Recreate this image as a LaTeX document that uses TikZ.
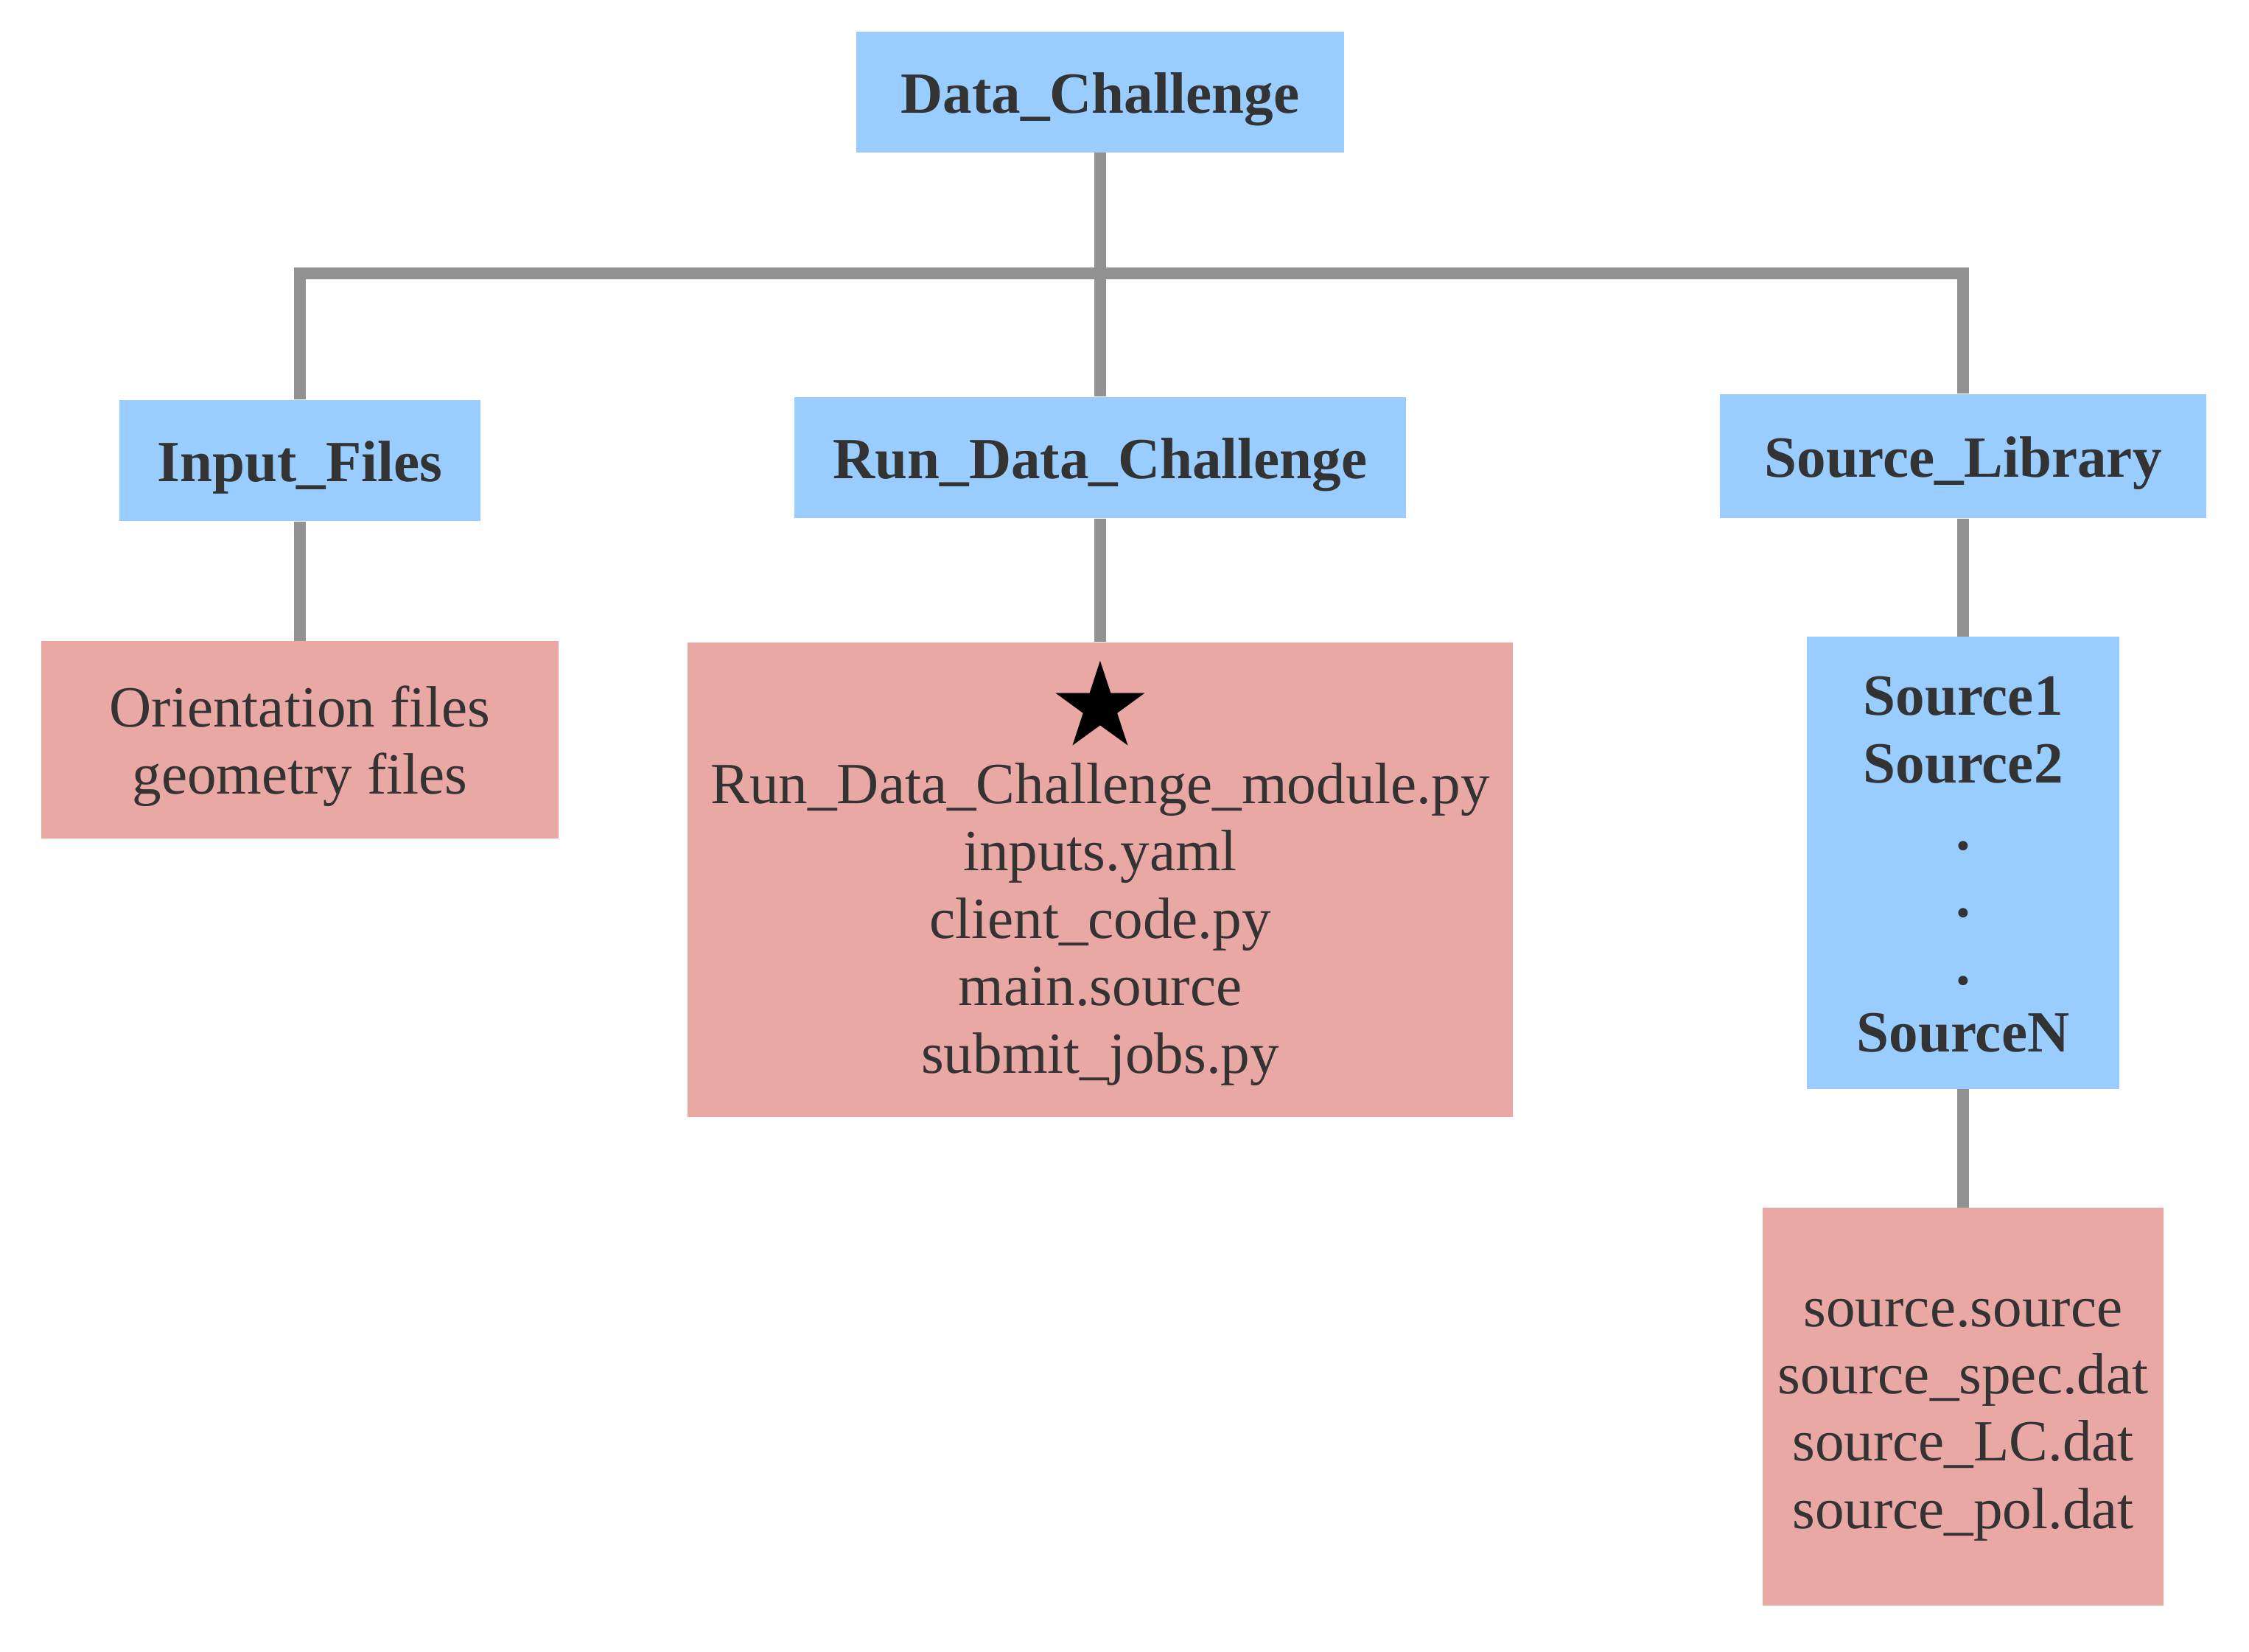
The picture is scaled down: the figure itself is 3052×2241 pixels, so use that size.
\documentclass[tikz,border=0pt]{standalone}
\usepackage{fontspec}
\setmainfont{Liberation Serif}
\newfontfamily\symfont{DejaVu Sans}
\usetikzlibrary{positioning}
\definecolor{dirblue}{RGB}{153,204,255}
\definecolor{filepink}{RGB}{234,168,164}
\definecolor{linkgray}{RGB}{146,146,146}
\definecolor{textdark}{RGB}{51,51,51}

\begin{document}
\begin{tikzpicture}[
  x=0.01cm, y=-0.01cm,
  boxtext/.style={align=center, inner sep=0pt, text=textdark, text height=21pt, text depth=5pt},
  dir/.style={boxtext, fill=dirblue, font=\fontsize{22.5}{26}\selectfont\bfseries},
  files/.style={boxtext, fill=filepink, font=\fontsize{22.5}{26}\selectfont},
  link/.style={draw=linkgray, line width=4.7pt},
]
\useasboundingbox (0,0) rectangle (3052,2241);

% top level
\node[dir, minimum width=6.62cm, minimum height=1.63cm] (dc) at (1493,125) {Data\_Challenge};

% second level
\node[dir, minimum width=4.90cm, minimum height=1.64cm] (inp) at (407,625) {Input\_Files};
\node[dir, minimum width=8.29cm, minimum height=1.64cm] (run) at (1493,621) {Run\_Data\_Challenge};
\node[dir, minimum width=6.60cm, minimum height=1.68cm] (lib) at (2664,619) {Source\_Library};

% contents (text height = 21pt + 26pt per extra line)
\node[files, minimum width=7.01cm, minimum height=2.67cm, text height=47pt] (orient) at (407,1004)
  {Orientation files\\geometry files};
\node[files, minimum width=11.19cm, minimum height=6.44cm, text height=160pt, text depth=11pt] (runf) at (1493,1194)
  {{\symfont\fontsize{45}{45}\selectfont\textcolor{black}{★}}\\[-3.5pt]
   Run\_Data\_Challenge\_module.py\\inputs.yaml\\client\_code.py\\main.source\\submit\_jobs.py};
\node[dir, minimum width=4.23cm, minimum height=6.13cm, text height=151pt] (srcs) at (2664,1171)
  {Source1\\Source2\\.\\.\\.\\SourceN};
\node[files, minimum width=5.43cm, minimum height=5.39cm, text height=99pt] (srcf) at (2664,1909)
  {source.source\\source\_spec.dat\\source\_LC.dat\\source\_pol.dat};

% tree lines
\coordinate (fork) at (1493,371);
\draw[link] (dc) -- (run);
\draw[link] (inp.north) |- (fork) -| (lib.north);
\draw[link] (inp) -- (orient);
\draw[link] (run) -- (runf);
\draw[link] (lib) -- (srcs);
\draw[link] (srcs) -- (srcf);
\end{tikzpicture}
\end{document}
